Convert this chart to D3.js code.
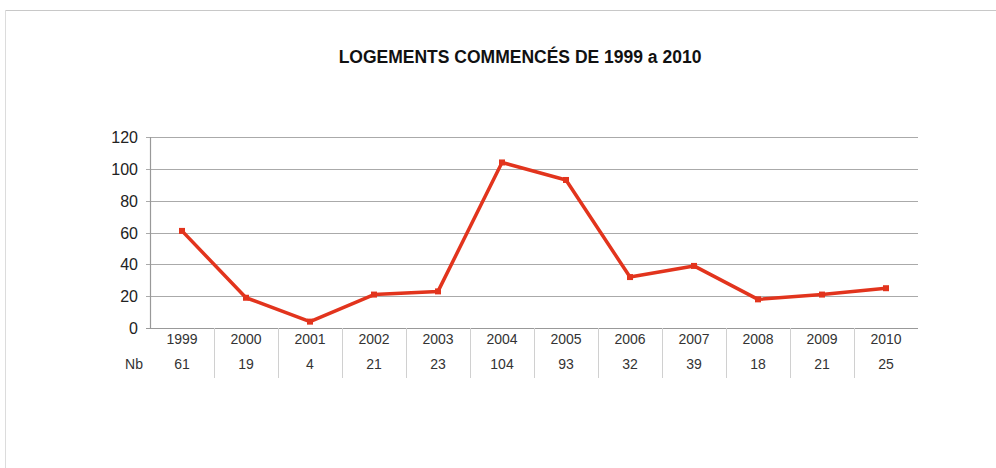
<!DOCTYPE html>
<html>
<head>
<meta charset="utf-8">
<script src="https://cdn.jsdelivr.net/npm/d3@7"></script>
<style>
  body { margin: 0; background: #fff; }
  svg { font-family: "Liberation Sans", Arial, sans-serif; }
</style>
</head>
<body>
<div id="vis-container"></div>
<script>
// data
const years = ["1999","2000","2001","2002","2003","2004","2005","2006","2007","2008","2009","2010"];
const counts = [61, 19, 4, 21, 23, 104, 93, 32, 39, 18, 21, 25];
const yTicks = [0, 20, 40, 60, 80, 100, 120];

let width = 996;
let height = 468;
let margins = { top: 137, right: 78, bottom: 140, left: 150 };
let visWidth = width - margins.left - margins.right;   // 768
let visHeight = height - margins.top - margins.bottom; // 191

let svg = d3.select("#vis-container").append("svg")
    .attr("width", width).attr("height", height);

// outer frame (top and left edges only visible)
svg.append("line").attr("x1", 5).attr("x2", width).attr("y1", 10.5).attr("y2", 10.5)
    .attr("stroke", "#c8c8c8");
svg.append("line").attr("x1", 5.5).attr("x2", 5.5).attr("y1", 10).attr("y2", height)
    .attr("stroke", "#dcdcdc");

svg.append("text")
    .attr("x", 520).attr("y", 63)
    .attr("text-anchor", "middle")
    .style("font-size", "17.5px").style("font-weight", "bold").style("fill", "#111")
    .text("LOGEMENTS COMMENCÉS DE 1999 a 2010");

let viewport = svg.append("g")
    .attr("transform", "translate(" + margins.left + "," + margins.top + ")");

let xScale = d3.scaleBand().domain(years).range([0, visWidth]);
let yScale = d3.scaleLinear().domain([0, 120]).range([visHeight, 0]);

// grid lines (with small outward tick)
viewport.append("g").selectAll("line")
    .data(yTicks).enter().append("line")
    .attr("x1", -4).attr("x2", visWidth)
    .attr("y1", d => Math.round(yScale(d)) + 0.5)
    .attr("y2", d => Math.round(yScale(d)) + 0.5)
    .attr("stroke", d => d === 0 ? "#999" : "#aaa")
    .attr("stroke-width", 1.2);

// left axis line
viewport.append("line")
    .attr("x1", 0.5).attr("x2", 0.5).attr("y1", 0).attr("y2", visHeight)
    .attr("stroke", "#999").attr("stroke-width", 1.2);

// y labels
viewport.append("g").selectAll("text")
    .data(yTicks).enter().append("text")
    .attr("x", -12).attr("y", d => yScale(d) + 6)
    .attr("text-anchor", "end")
    .style("font-size", "16px").style("fill", "#222")
    .text(d => d);

// data table under the axis
let table = viewport.append("g").attr("transform", "translate(0," + visHeight + ")");
table.selectAll("line.sep")
    .data(years.slice(1)).enter().append("line")
    .attr("class", "sep")
    .attr("x1", d => xScale(d) + 0.5).attr("x2", d => xScale(d) + 0.5)
    .attr("y1", 0).attr("y2", 50)
    .attr("stroke", "#d0d0d0");
table.selectAll("text.year")
    .data(years).enter().append("text")
    .attr("class", "year")
    .attr("x", d => xScale(d) + xScale.bandwidth() / 2).attr("y", 16)
    .attr("text-anchor", "middle")
    .style("font-size", "14px").style("fill", "#333")
    .text(d => d);
table.selectAll("text.val")
    .data(counts).enter().append("text")
    .attr("class", "val")
    .attr("x", (d, i) => xScale(years[i]) + xScale.bandwidth() / 2).attr("y", 41)
    .attr("text-anchor", "middle")
    .style("font-size", "14px").style("fill", "#333")
    .text(d => d);
table.append("text")
    .attr("x", -7).attr("y", 41)
    .attr("text-anchor", "end")
    .style("font-size", "14px").style("fill", "#333")
    .text("Nb");

// the line
let lineGen = d3.line()
    .x((d, i) => xScale(years[i]) + xScale.bandwidth() / 2)
    .y(d => yScale(d));

viewport.append("path")
    .attr("d", lineGen(counts))
    .attr("fill", "none")
    .attr("stroke", "#e2341d")
    .attr("stroke-width", 3.5)
    .attr("stroke-linejoin", "round");

viewport.append("g").selectAll("rect")
    .data(counts).enter().append("rect")
    .attr("x", (d, i) => xScale(years[i]) + xScale.bandwidth() / 2 - 3)
    .attr("y", d => yScale(d) - 3)
    .attr("width", 6).attr("height", 6)
    .attr("fill", "#e2341d");
</script>
</body>
</html>
